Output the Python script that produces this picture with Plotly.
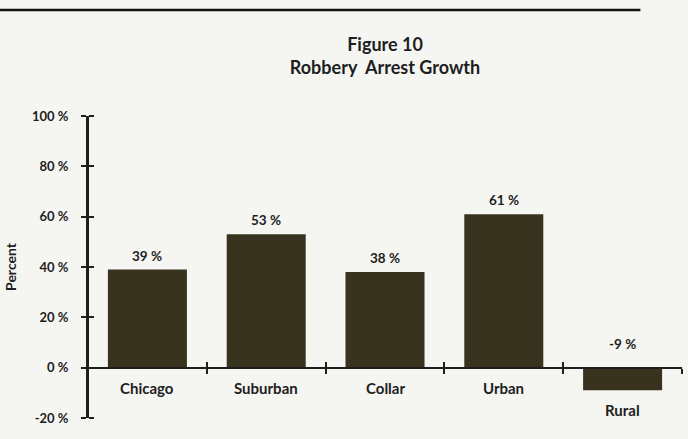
import plotly.graph_objects as go

# chart data
categories = ["Chicago", "Suburban", "Collar", "Urban", "Rural"]
growth = [39, 53, 38, 61, -9]
value_labels = ["39 %", "53 %", "38 %", "61 %", "-9 %"]
y_ticks = [-20, 0, 20, 40, 60, 80, 100]
y_tick_labels = ["-20 %", "0 %", "20 %", "40 %", "60 %", "80 %", "100 %"]

y_range = [-20, 100]
bar_color = "#37331f"
ink = "#1e1e1e"
font_name = "Lato"

positions = list(range(len(categories)))
boundaries = [p - 0.5 for p in positions] + [positions[-1] + 0.5]
zero_pos = (0 - y_range[0]) / (y_range[1] - y_range[0])

fig = go.Figure()
fig.add_trace(go.Bar(
    x=positions,
    y=growth,
    width=0.665,
    marker=dict(color=bar_color, line=dict(width=0)),
    hoverinfo="skip",
))

# value labels above bars (negative one sits above the zero line)
for p, v, lab in zip(positions, growth, value_labels):
    fig.add_annotation(
        x=p, y=max(v, 0), text=lab, showarrow=False,
        yshift=14 if v >= 0 else 24,
        font=dict(family=font_name, size=13.5, color=ink, weight="bold"),
    )
    # category name below zero line, or below the bar if negative
    fig.add_annotation(
        x=p, y=min(v, 0), text=categories[p], showarrow=False,
        yshift=-20,
        font=dict(family=font_name, size=15, color=ink, weight="bold"),
    )

axis_common = dict(showgrid=False, zeroline=False, showline=True,
                   linecolor=ink, linewidth=2, tickcolor=ink, tickwidth=2,
                   ticklen=5, automargin=False)

fig.update_layout(
    width=688, height=439,
    margin=dict(l=88, r=6, t=116, b=21),
    paper_bgcolor="#f5f5f2",
    plot_bgcolor="rgba(0,0,0,0)",
    showlegend=False,
    title=dict(
        text="Figure 10<br>Robbery  Arrest Growth",
        xref="paper", x=0.5, xanchor="center",
        yref="container", y=1 - 51 / 439, yanchor="middle",
        font=dict(family=font_name, size=18, color=ink, weight="bold"),
    ),
    xaxis=dict(
        range=[boundaries[0], boundaries[-1]],
        anchor="free", position=zero_pos,
        tickvals=boundaries, showticklabels=False, ticks="outside",
        **axis_common,
    ),
    xaxis2=dict(
        overlaying="x", range=[boundaries[0], boundaries[-1]],
        anchor="free", position=zero_pos,
        tickvals=boundaries, showticklabels=False, ticks="inside",
        **axis_common,
    ),
    yaxis=dict(
        range=y_range, domain=[0, 1],
        tickvals=y_ticks, ticktext=y_tick_labels, ticks="outside",
        ticklabelstandoff=10,
        tickfont=dict(family=font_name, size=13, color=ink, weight="bold"),
        title=dict(text="Percent", standoff=12,
                   font=dict(family=font_name, size=14, color=ink, weight="bold")),
        **axis_common,
    ),
    # second y axis on the same line, ticking to the right, so ticks cross the axis
    yaxis2=dict(
        overlaying="y", range=y_range, anchor="free", position=0, side="right",
        tickvals=y_ticks, showticklabels=False, ticks="outside",
        **axis_common,
    ),
    shapes=[
        dict(type="line", xref="paper", yref="paper",
             x0=-0.15, x1=0.93, y0=1.351, y1=1.351,
             line=dict(color="#111111", width=2.5)),
    ],
)

# invisible point so the overlay axes get drawn
fig.add_trace(go.Scatter(x=[positions[0]], y=[growth[0]], xaxis="x2", yaxis="y2",
                         mode="markers", marker=dict(opacity=0), hoverinfo="skip"))

# drop the page's default body margin so the figure sits at the window corner
fig.write_html("out.html", config={"displayModeBar": False},
               post_script="document.body.style.margin='0';")
